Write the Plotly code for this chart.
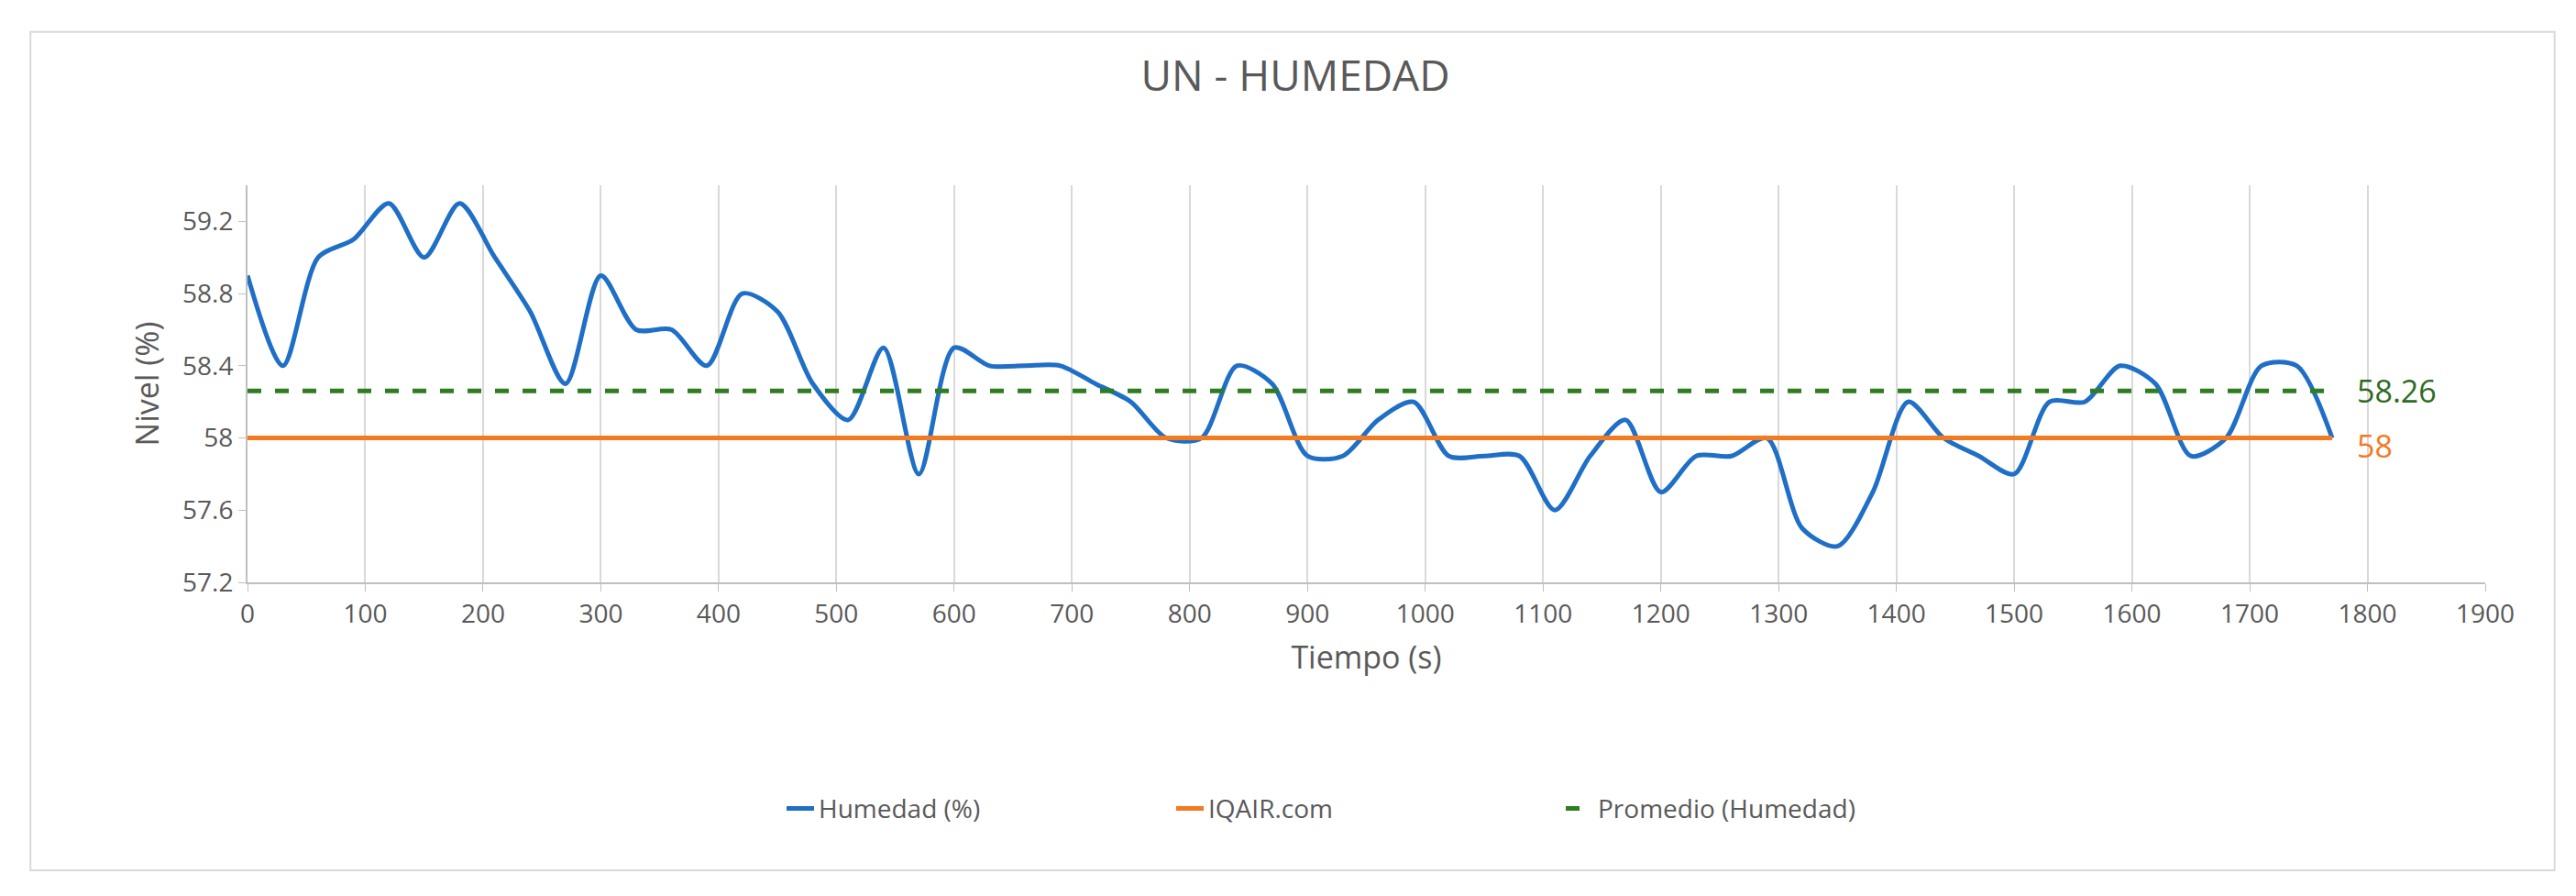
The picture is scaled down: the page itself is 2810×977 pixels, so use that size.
import plotly.graph_objects as go

tiempo = list(range(0, 1771, 30))
humedad = [58.9, 58.4, 59.0, 59.1, 59.3, 59.0, 59.3, 59.0, 58.7, 58.3,
           58.9, 58.6, 58.6, 58.4, 58.8, 58.7, 58.3, 58.1, 58.5, 57.8,
           58.5, 58.4, 58.4, 58.4, 58.3, 58.2, 58.0, 58.0, 58.4, 58.3,
           57.9, 57.9, 58.1, 58.2, 57.9, 57.9, 57.9, 57.6, 57.9, 58.1,
           57.7, 57.9, 57.9, 58.0, 57.5, 57.4, 57.7, 58.2, 58.0, 57.9,
           57.8, 58.2, 58.2, 58.4, 58.3, 57.9, 58.0, 58.4, 58.4, 58.0]
iqair = 58
promedio = 58.26

FONT = "Open Sans"
fig = go.Figure()
fig.add_trace(go.Scatter(x=tiempo, y=humedad, mode="lines", name="Humedad (%)",
                         line=dict(color="#1f6fc6", width=5, shape="spline", smoothing=0.8)))
fig.add_trace(go.Scatter(x=[tiempo[0], tiempo[-1]], y=[iqair, iqair], mode="lines", name="IQAIR.com",
                         line=dict(color="#f47a1f", width=5)))
fig.add_trace(go.Scatter(x=[tiempo[0], tiempo[-1]], y=[promedio, promedio], mode="lines",
                         name="Promedio (Humedad)",
                         line=dict(color="#2e7d1e", width=5, dash="dash")))

fig.add_annotation(x=tiempo[-1], y=promedio, text=str(promedio), showarrow=False, xanchor="left",
                   xshift=25, font=dict(color="#2e6b1e", size=34, family=FONT))
fig.add_annotation(x=tiempo[-1], y=iqair, text=str(iqair), showarrow=False, xanchor="left",
                   xshift=25, yshift=-8, font=dict(color="#f47a1f", size=34, family=FONT))

fig.update_layout(
    width=2810, height=977,
    paper_bgcolor="white", plot_bgcolor="white",
    margin=dict(l=262, r=107, t=194, b=350),
    title=dict(text="UN - HUMEDAD", x=0.5, y=0.94, xanchor="center",
               font=dict(size=46, color="#595959", family=FONT)),
    font=dict(family=FONT, color="#595959", size=28),
    xaxis=dict(title=dict(text="Tiempo (s)", font=dict(size=34), standoff=20), range=[0, 1900],
               dtick=100, tick0=0, showgrid=True, gridcolor="#d9d9d9", gridwidth=2,
               showline=True, linecolor="#bfbfbf", linewidth=2, zeroline=False,
               ticks="outside", tickcolor="#bfbfbf", ticklen=8),
    yaxis=dict(title=dict(text="Nivel (%)", font=dict(size=34)), range=[57.2, 59.4], dtick=0.4,
               tick0=57.2, showgrid=False, showline=True, linecolor="#bfbfbf", linewidth=2,
               zeroline=False, ticks="outside", tickcolor="#bfbfbf", ticklen=8),
    legend=dict(orientation="h", x=0.5, xanchor="center", y=-0.57, yanchor="middle",
                font=dict(size=28), entrywidth=380, entrywidthmode="pixels"),
)
fig.add_shape(type="rect", xref="paper", yref="paper", x0=-0.097, x1=1.031, y0=-0.725, y1=1.386,
              line=dict(color="#d9d9d9", width=2))
fig.write_html("out.html")
